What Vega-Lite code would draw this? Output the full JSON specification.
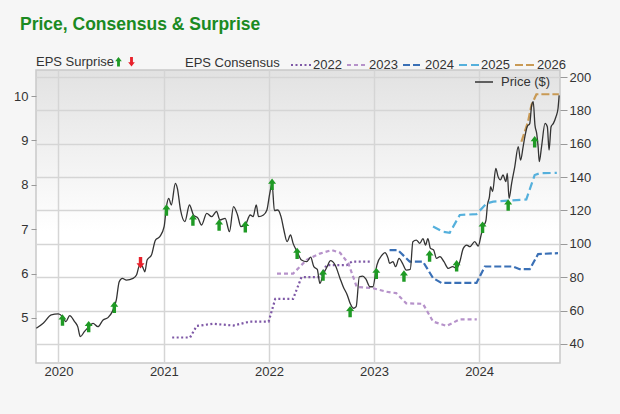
{
  "$schema": "https://vega.github.io/schema/vega-lite/v6.json",
  "width": 524,
  "height": 293,
  "autosize": "none",
  "padding": {"left": 36, "top": 70, "right": 60, "bottom": 51},
  "background": "#f6f6f6",
  "title": {
    "text": "Price, Consensus & Surprise",
    "anchor": "start",
    "frame": "group",
    "dx": -16,
    "offset": 21,
    "fontSize": 17.5,
    "fontWeight": "bold",
    "font": "Liberation Sans",
    "color": "#1b8a22"
  },
  "datasets": {
    "price": [
      {"date": "2019-10-16", "price": 49.4}, {"date": "2019-11-09", "price": 52.4}, {"date": "2019-12-07", "price": 57.4}, {"date": "2019-12-31", "price": 58.0},
      {"date": "2020-01-15", "price": 56.4}, {"date": "2020-01-27", "price": 53.4}, {"date": "2020-02-09", "price": 57.0}, {"date": "2020-02-26", "price": 53.4},
      {"date": "2020-03-08", "price": 50.4}, {"date": "2020-03-17", "price": 44.4}, {"date": "2020-03-31", "price": 47.4}, {"date": "2020-04-16", "price": 50.4},
      {"date": "2020-04-30", "price": 52.4}, {"date": "2020-05-17", "price": 50.4}, {"date": "2020-06-04", "price": 54.4}, {"date": "2020-06-21", "price": 55.8},
      {"date": "2020-07-06", "price": 59.4}, {"date": "2020-07-20", "price": 66.4}, {"date": "2020-07-30", "price": 77.3}, {"date": "2020-08-10", "price": 79.3},
      {"date": "2020-08-24", "price": 78.3}, {"date": "2020-09-16", "price": 79.3}, {"date": "2020-09-28", "price": 81.3}, {"date": "2020-10-09", "price": 87.3},
      {"date": "2020-10-19", "price": 86.3}, {"date": "2020-10-27", "price": 83.3}, {"date": "2020-11-04", "price": 90.3}, {"date": "2020-11-19", "price": 93.3},
      {"date": "2020-12-03", "price": 102.3}, {"date": "2020-12-18", "price": 104.3}, {"date": "2021-01-02", "price": 110.3}, {"date": "2021-01-10", "price": 122.3},
      {"date": "2021-01-18", "price": 127.3}, {"date": "2021-01-27", "price": 123.3}, {"date": "2021-02-10", "price": 136.3}, {"date": "2021-02-17", "price": 133.3},
      {"date": "2021-02-28", "price": 120.3}, {"date": "2021-03-15", "price": 113.3}, {"date": "2021-03-31", "price": 123.3}, {"date": "2021-04-14", "price": 117.3},
      {"date": "2021-04-30", "price": 115.3}, {"date": "2021-05-12", "price": 111.3}, {"date": "2021-05-30", "price": 118.3}, {"date": "2021-06-16", "price": 116.3},
      {"date": "2021-07-03", "price": 119.4}, {"date": "2021-07-15", "price": 114.3}, {"date": "2021-08-02", "price": 115.3}, {"date": "2021-08-17", "price": 107.3},
      {"date": "2021-08-31", "price": 122.3}, {"date": "2021-09-14", "price": 117.3}, {"date": "2021-09-26", "price": 110.3}, {"date": "2021-10-11", "price": 111.3},
      {"date": "2021-10-28", "price": 117.3}, {"date": "2021-11-07", "price": 116.3}, {"date": "2021-11-18", "price": 123.3}, {"date": "2021-11-26", "price": 116.3},
      {"date": "2021-12-13", "price": 117.3}, {"date": "2021-12-25", "price": 120.3}, {"date": "2022-01-04", "price": 130.3}, {"date": "2022-01-12", "price": 136.0},
      {"date": "2022-01-20", "price": 120.0}, {"date": "2022-02-01", "price": 120.3}, {"date": "2022-02-12", "price": 116.3}, {"date": "2022-02-22", "price": 108.3},
      {"date": "2022-03-05", "price": 101.3}, {"date": "2022-03-17", "price": 105.3}, {"date": "2022-03-26", "price": 100.3}, {"date": "2022-04-09", "price": 95.3},
      {"date": "2022-04-24", "price": 90.3}, {"date": "2022-05-12", "price": 89.3}, {"date": "2022-05-26", "price": 92.0}, {"date": "2022-06-06", "price": 86.3},
      {"date": "2022-06-18", "price": 84.7}, {"date": "2022-06-27", "price": 76.3}, {"date": "2022-07-08", "price": 81.3}, {"date": "2022-07-22", "price": 86.3},
      {"date": "2022-08-03", "price": 89.9}, {"date": "2022-08-19", "price": 87.3}, {"date": "2022-09-05", "price": 79.3}, {"date": "2022-09-16", "price": 74.3},
      {"date": "2022-09-30", "price": 69.4}, {"date": "2022-10-10", "price": 64.4}, {"date": "2022-10-21", "price": 61.4}, {"date": "2022-10-31", "price": 62.4},
      {"date": "2022-11-11", "price": 80.3}, {"date": "2022-11-23", "price": 80.7}, {"date": "2022-12-04", "price": 78.8}, {"date": "2022-12-18", "price": 74.3},
      {"date": "2022-12-28", "price": 74.3}, {"date": "2023-01-11", "price": 87.3}, {"date": "2023-01-29", "price": 93.3}, {"date": "2023-02-08", "price": 94.7},
      {"date": "2023-02-19", "price": 91.3}, {"date": "2023-02-24", "price": 88.3}, {"date": "2023-03-08", "price": 89.3}, {"date": "2023-03-17", "price": 86.3},
      {"date": "2023-03-29", "price": 91.3}, {"date": "2023-04-10", "price": 88.3}, {"date": "2023-04-23", "price": 84.3}, {"date": "2023-05-07", "price": 84.7},
      {"date": "2023-05-16", "price": 101.3}, {"date": "2023-05-28", "price": 102.3}, {"date": "2023-06-09", "price": 100.3}, {"date": "2023-06-20", "price": 103.2},
      {"date": "2023-06-29", "price": 99.3}, {"date": "2023-07-07", "price": 103.2}, {"date": "2023-07-16", "price": 97.3}, {"date": "2023-07-27", "price": 96.3},
      {"date": "2023-08-06", "price": 91.3}, {"date": "2023-08-18", "price": 92.3}, {"date": "2023-09-01", "price": 89.3}, {"date": "2023-09-16", "price": 85.3},
      {"date": "2023-10-01", "price": 86.3}, {"date": "2023-10-15", "price": 85.3}, {"date": "2023-10-26", "price": 89.3}, {"date": "2023-11-07", "price": 97.3},
      {"date": "2023-11-19", "price": 99.3}, {"date": "2023-11-30", "price": 98.3}, {"date": "2023-12-17", "price": 101.3}, {"date": "2023-12-29", "price": 98.7},
      {"date": "2024-01-08", "price": 105.3}, {"date": "2024-01-16", "price": 110.3}, {"date": "2024-01-25", "price": 114.3}, {"date": "2024-01-30", "price": 123.3},
      {"date": "2024-02-06", "price": 128.3}, {"date": "2024-02-10", "price": 134.3}, {"date": "2024-02-17", "price": 131.3}, {"date": "2024-02-28", "price": 145.2},
      {"date": "2024-03-07", "price": 140.3}, {"date": "2024-03-15", "price": 138.3}, {"date": "2024-03-24", "price": 141.3}, {"date": "2024-04-03", "price": 137.3},
      {"date": "2024-04-08", "price": 142.3}, {"date": "2024-04-14", "price": 127.3}, {"date": "2024-04-23", "price": 136.3}, {"date": "2024-05-04", "price": 146.3},
      {"date": "2024-05-16", "price": 158.3}, {"date": "2024-05-24", "price": 150.2}, {"date": "2024-06-02", "price": 158.3}, {"date": "2024-06-08", "price": 164.3},
      {"date": "2024-06-16", "price": 170.2}, {"date": "2024-06-25", "price": 172.2}, {"date": "2024-07-01", "price": 182.2}, {"date": "2024-07-07", "price": 185.2},
      {"date": "2024-07-13", "price": 171.2}, {"date": "2024-07-19", "price": 166.2}, {"date": "2024-07-24", "price": 158.3}, {"date": "2024-07-28", "price": 149.3},
      {"date": "2024-08-05", "price": 158.3}, {"date": "2024-08-17", "price": 172.2}, {"date": "2024-08-25", "price": 170.2}, {"date": "2024-08-31", "price": 156.2},
      {"date": "2024-09-07", "price": 170.2}, {"date": "2024-09-15", "price": 172.2}, {"date": "2024-09-24", "price": 176.2}, {"date": "2024-10-01", "price": 181.0},
      {"date": "2024-10-05", "price": 189.0}
    ],
    "consensus": [
      {"year": "2022", "date": "2021-01-30", "eps": 4.56}, {"year": "2022", "date": "2021-04-02", "eps": 4.56}, {"year": "2022", "date": "2021-04-25", "eps": 4.82},
      {"year": "2022", "date": "2021-06-21", "eps": 4.87}, {"year": "2022", "date": "2021-08-30", "eps": 4.83}, {"year": "2022", "date": "2021-10-28", "eps": 4.92},
      {"year": "2022", "date": "2021-12-31", "eps": 4.92}, {"year": "2022", "date": "2022-01-23", "eps": 5.43}, {"year": "2022", "date": "2022-03-26", "eps": 5.43},
      {"year": "2022", "date": "2022-04-24", "eps": 5.92}, {"year": "2022", "date": "2022-06-27", "eps": 5.92}, {"year": "2022", "date": "2022-07-20", "eps": 6.19},
      {"year": "2022", "date": "2022-09-28", "eps": 6.19}, {"year": "2022", "date": "2022-10-16", "eps": 6.27}, {"year": "2022", "date": "2022-12-24", "eps": 6.27},
      {"year": "2023", "date": "2022-01-29", "eps": 6.0}, {"year": "2023", "date": "2022-03-26", "eps": 6.0}, {"year": "2023", "date": "2022-05-12", "eps": 6.31},
      {"year": "2023", "date": "2022-06-27", "eps": 6.45}, {"year": "2023", "date": "2022-08-07", "eps": 6.53}, {"year": "2023", "date": "2022-09-05", "eps": 6.47},
      {"year": "2023", "date": "2022-10-04", "eps": 6.23}, {"year": "2023", "date": "2022-11-02", "eps": 5.7}, {"year": "2023", "date": "2022-12-29", "eps": 5.67},
      {"year": "2023", "date": "2023-02-14", "eps": 5.59}, {"year": "2023", "date": "2023-03-19", "eps": 5.56}, {"year": "2023", "date": "2023-04-23", "eps": 5.33},
      {"year": "2023", "date": "2023-06-20", "eps": 5.32}, {"year": "2023", "date": "2023-07-25", "eps": 4.92}, {"year": "2023", "date": "2023-09-10", "eps": 4.82},
      {"year": "2023", "date": "2023-10-26", "eps": 4.97}, {"year": "2023", "date": "2023-12-24", "eps": 4.97},
      {"year": "2024", "date": "2023-02-24", "eps": 6.53}, {"year": "2024", "date": "2023-03-25", "eps": 6.53}, {"year": "2024", "date": "2023-05-05", "eps": 6.27},
      {"year": "2024", "date": "2023-06-20", "eps": 6.27}, {"year": "2024", "date": "2023-07-25", "eps": 5.9}, {"year": "2024", "date": "2023-08-23", "eps": 5.79},
      {"year": "2024", "date": "2023-12-23", "eps": 5.79}, {"year": "2024", "date": "2024-01-21", "eps": 6.16}, {"year": "2024", "date": "2024-04-28", "eps": 6.16},
      {"year": "2024", "date": "2024-05-21", "eps": 6.1}, {"year": "2024", "date": "2024-06-25", "eps": 6.1}, {"year": "2024", "date": "2024-07-24", "eps": 6.44},
      {"year": "2024", "date": "2024-10-01", "eps": 6.46},
      {"year": "2025", "date": "2023-07-25", "eps": 7.06}, {"year": "2025", "date": "2023-08-29", "eps": 6.94}, {"year": "2025", "date": "2023-09-21", "eps": 6.92},
      {"year": "2025", "date": "2023-10-26", "eps": 7.32}, {"year": "2025", "date": "2023-12-23", "eps": 7.34}, {"year": "2025", "date": "2024-01-27", "eps": 7.58},
      {"year": "2025", "date": "2024-02-19", "eps": 7.62}, {"year": "2025", "date": "2024-06-13", "eps": 7.67}, {"year": "2025", "date": "2024-07-12", "eps": 8.22},
      {"year": "2025", "date": "2024-07-30", "eps": 8.26}, {"year": "2025", "date": "2024-09-27", "eps": 8.27},
      {"year": "2026", "date": "2024-05-27", "eps": 8.97}, {"year": "2026", "date": "2024-06-19", "eps": 9.42}, {"year": "2026", "date": "2024-07-01", "eps": 9.8},
      {"year": "2026", "date": "2024-07-18", "eps": 10.04}, {"year": "2026", "date": "2024-10-04", "eps": 10.04}
    ],
    "surprise": [
      {"date": "2020-01-15", "price": 54.4, "dir": "up"}, {"date": "2020-04-15", "price": 50.4, "dir": "up"}, {"date": "2020-07-13", "price": 62.0, "dir": "up"},
      {"date": "2020-10-12", "price": 88.7, "dir": "down"}, {"date": "2021-01-10", "price": 120.3, "dir": "up"}, {"date": "2021-04-12", "price": 114.3, "dir": "up"},
      {"date": "2021-07-12", "price": 111.3, "dir": "up"}, {"date": "2021-10-11", "price": 110.3, "dir": "up"}, {"date": "2022-01-12", "price": 135.7, "dir": "up"},
      {"date": "2022-04-09", "price": 94.3, "dir": "up"}, {"date": "2022-07-08", "price": 81.3, "dir": "up"}, {"date": "2022-10-10", "price": 59.4, "dir": "up"},
      {"date": "2023-01-09", "price": 82.3, "dir": "up"}, {"date": "2023-04-15", "price": 80.7, "dir": "up"}, {"date": "2023-07-13", "price": 92.7, "dir": "up"},
      {"date": "2023-10-15", "price": 86.9, "dir": "up"}, {"date": "2024-01-13", "price": 110.0, "dir": "up"}, {"date": "2024-04-11", "price": 123.3, "dir": "up"},
      {"date": "2024-07-12", "price": 161.2, "dir": "up"}
    ]
  },
  "encoding": {
    "x": {
      "field": "date",
      "type": "temporal",
      "scale": {"domain": [{"year": 2019, "month": 10, "date": 15}, {"year": 2024, "month": 10, "date": 8}]},
      "axis": {
        "title": null,
        "format": "%Y",
        "values": [{"year": 2020, "month": 1, "date": 1}, {"year": 2021, "month": 1, "date": 1}, {"year": 2022, "month": 1, "date": 1}, {"year": 2023, "month": 1, "date": 1}, {"year": 2024, "month": 1, "date": 1}],
        "grid": true,
        "ticks": false,
        "domain": false,
        "labelPadding": 2,
        "labelAlign": "center"
      }
    }
  },
  "layer": [
    {
      "data": {"name": "consensus"},
      "mark": {"type": "line", "strokeWidth": 2.2},
      "encoding": {
        "y": {
          "field": "eps",
          "type": "quantitative",
          "scale": {"domain": [3.986, 10.586], "nice": false, "zero": false},
          "axis": {"orient": "left", "title": null, "values": [5, 6, 7, 8, 9, 10], "grid": false, "tickSize": 5, "labelPadding": 3}
        },
        "color": {
          "field": "year",
          "type": "nominal",
          "scale": {"domain": ["2022", "2023", "2024", "2025", "2026"], "range": ["#7e58a6", "#b692ca", "#3a70b6", "#55b0dc", "#c99a55"]},
          "legend": {
            "title": "EPS Consensus",
            "orient": "none",
            "legendX": 149,
            "legendY": -16,
            "direction": "horizontal",
            "titleOrient": "left",
            "titlePadding": 10,
            "symbolType": "stroke",
            "symbolSize": 400,
            "symbolStrokeWidth": 2,
            "labelOffset": 1,
            "columnPadding": 1,
            "encode": {
              "labels": {
                "fill": {
                  "condition": [
                    {"test": "datum.value === '2022'", "value": "#7e58a6"},
                    {"test": "datum.value === '2023'", "value": "#b692ca"},
                    {"test": "datum.value === '2024'", "value": "#3a70b6"},
                    {"test": "datum.value === '2025'", "value": "#55b0dc"}
                  ],
                  "value": "#c99a55"
                }
              }
            }
          }
        },
        "strokeDash": {
          "field": "year",
          "type": "nominal",
          "scale": {"domain": ["2022", "2023", "2024", "2025", "2026"], "range": [[2, 2.5], [4, 3], [7, 3], [8, 4], [8, 3]]},
          "legend": {
            "title": "EPS Consensus",
            "orient": "none",
            "legendX": 149,
            "legendY": -16,
            "direction": "horizontal",
            "titleOrient": "left",
            "titlePadding": 10,
            "symbolType": "stroke",
            "symbolSize": 400,
            "symbolStrokeWidth": 2,
            "labelOffset": 1,
            "columnPadding": 1
          }
        }
      }
    },
    {
      "data": {"name": "price"},
      "mark": {"type": "line", "strokeWidth": 1.3, "interpolate": "monotone"},
      "encoding": {
        "y": {
          "field": "price",
          "type": "quantitative",
          "scale": {"domain": [28.6, 204.2], "nice": false, "zero": false},
          "axis": {"orient": "right", "title": null, "values": [40, 60, 80, 100, 120, 140, 160, 180, 200], "grid": true, "tickSize": 7, "labelPadding": 2}
        },
        "color": {
          "datum": "Price ($)",
          "type": "nominal",
          "scale": {"range": ["#333333"]},
          "legend": {
            "title": null,
            "orient": "none",
            "legendX": 438,
            "legendY": 2,
            "symbolType": "stroke",
            "symbolSize": 324,
            "symbolStrokeWidth": 1.5,
            "labelOffset": 7
          }
        }
      }
    },
    {
      "data": {"name": "surprise"},
      "mark": {"type": "point", "filled": true, "size": 130, "opacity": 1},
      "encoding": {
        "y": {
          "field": "price",
          "type": "quantitative",
          "scale": {"domain": [28.6, 204.2], "nice": false, "zero": false},
          "axis": null
        },
        "color": {
          "field": "dir",
          "type": "nominal",
          "scale": {"domain": ["up", "down"], "range": ["#1f9a25", "#e8212b"]},
          "legend": {
            "title": "EPS Surprise",
            "orient": "none",
            "legendX": 0,
            "legendY": -15,
            "direction": "horizontal",
            "titleOrient": "left",
            "titlePadding": -3,
            "labelExpr": "''",
            "labelOffset": 0,
            "columnPadding": -6,
            "symbolSize": 90
          }
        },
        "shape": {
          "field": "dir",
          "type": "nominal",
          "scale": {"domain": ["up", "down"], "range": ["M0,-1L0.7,-0.1L0.3,-0.1L0.3,1L-0.3,1L-0.3,-0.1L-0.7,-0.1Z", "M0,1L0.7,0.1L0.3,0.1L0.3,-1L-0.3,-1L-0.3,0.1L-0.7,0.1Z"]},
          "legend": {
            "title": "EPS Surprise",
            "orient": "none",
            "legendX": 0,
            "legendY": -15,
            "direction": "horizontal",
            "titleOrient": "left",
            "titlePadding": -3,
            "labelExpr": "''",
            "labelOffset": 0,
            "columnPadding": -6,
            "symbolSize": 90
          }
        }
      }
    }
  ],
  "resolve": {"scale": {"y": "independent", "color": "independent", "shape": "independent", "strokeDash": "independent"}},
  "config": {
    "font": "Liberation Sans",
    "view": {
      "stroke": "#c9c9c9",
      "strokeWidth": 1.5,
      "fill": {"gradient": "linear", "x1": 0, "y1": 0, "x2": 0, "y2": 1, "stops": [{"offset": 0, "color": "#e2e2e2"}, {"offset": 0.55, "color": "#ffffff"}, {"offset": 1, "color": "#ffffff"}]}
    },
    "axis": {
      "labelFont": "Liberation Sans",
      "labelFontSize": 13,
      "labelColor": "#333333",
      "gridColor": "#d5d5d5",
      "gridWidth": 1.5,
      "tickColor": "#999999",
      "domain": false
    },
    "legend": {
      "labelFont": "Liberation Sans",
      "titleFont": "Liberation Sans",
      "labelFontSize": 13,
      "titleFontSize": 13,
      "titleFontWeight": "normal",
      "titleColor": "#333333",
      "labelColor": "#333333"
    }
  }
}
